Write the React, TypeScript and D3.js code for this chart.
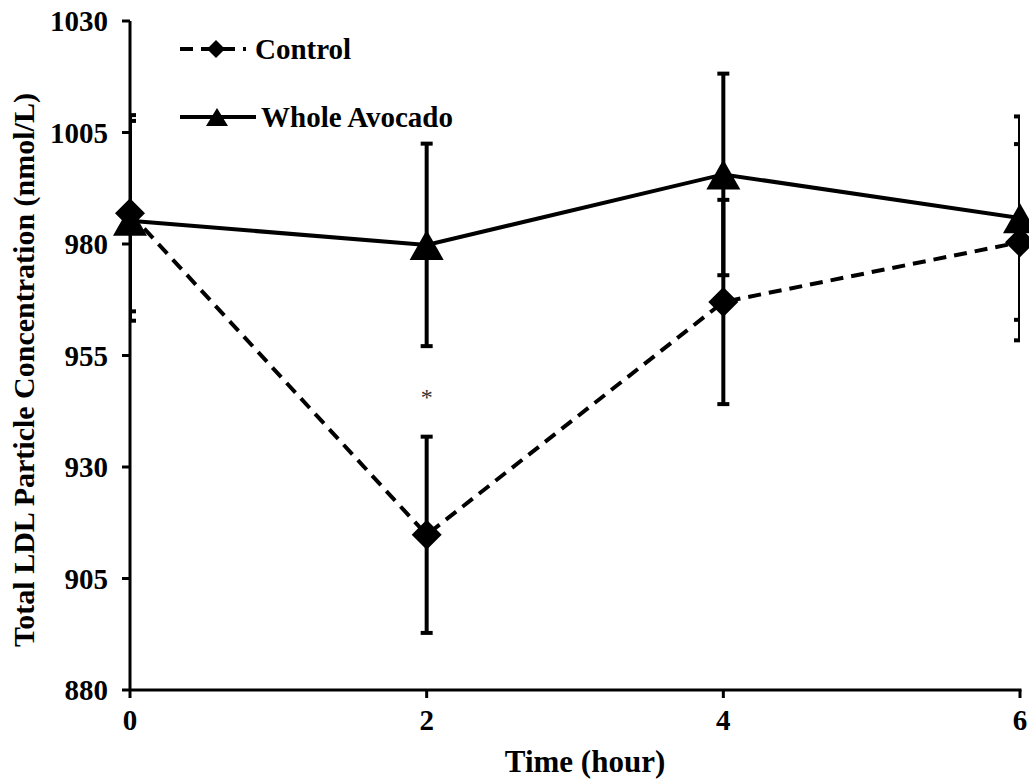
import { useEffect } from 'react';
import * as d3 from 'd3';

const hours = [0, 2, 4, 6];
const controlMean = [986.9, 914.8, 967.0, 980.4];
const controlErr = [22.0, 22.0, 22.9, 22.0];
const avocadoMean = [985.2, 979.8, 995.6, 985.8];
const avocadoErr = [22.4, 22.7, 22.6, 22.8];
const yTicks = [880, 905, 930, 955, 980, 1005, 1030];
const xTicks = [0, 2, 4, 6];

const W = 1029;
const H = 780;
const FONT = "'Liberation Serif', serif";

const x = d3.scaleLinear().domain([0, 6]).range([130, 1020]);
const y = d3.scaleLinear().domain([880, 1030]).range([690, 21]);

const diamond = (cx: number, cy: number, r = 15) =>
    `M${cx},${cy - r}L${cx + r},${cy}L${cx},${cy + r}L${cx - r},${cy}Z`;
const triangle = (cx: number, cy: number, w = 34, h = 30) =>
    `M${cx},${cy - h / 2}L${cx + w / 2},${cy + h / 2}L${cx - w / 2},${cy + h / 2}Z`;

export default function App() {
    useEffect(() => {
        document.body.style.margin = '0';
    }, []);

    const line = d3.line<number>()
        .x((_, i) => x(hours[i]))
        .y(d => y(d));

    const errBars = (mean: number[], err: number[]) =>
        mean.map((m, i) => {
            const cx = x(hours[i]);
            const top = y(m + err[i]);
            const bot = y(m - err[i]);
            return (
                <g key={i} stroke="#000" strokeWidth={4}>
                    <line x1={cx} x2={cx} y1={top} y2={bot} />
                    <line x1={cx - 6} x2={cx + 6} y1={top} y2={top} />
                    <line x1={cx - 6} x2={cx + 6} y1={bot} y2={bot} />
                </g>
            );
        });

    return (
        <svg width={W} height={H} style={{ display: 'block', background: '#fff', fontFamily: FONT }}>
            <defs>
                <clipPath id="plot">
                    <rect x={x(0)} y={0} width={x(6) - x(0)} height={H} />
                </clipPath>
            </defs>

            {/* axes */}
            <g stroke="#000" strokeWidth={3}>
                <line x1={x(0)} x2={x(0)} y1={y(1030)} y2={y(880)} />
                <line x1={x(0)} x2={x(6) + 1.5} y1={y(880)} y2={y(880)} />
                {yTicks.map(t => (
                    <line key={t} x1={x(0) - 8} x2={x(0)} y1={y(t)} y2={y(t)} />
                ))}
                {xTicks.map(t => (
                    <line key={t} x1={x(t)} x2={x(t)} y1={y(880)} y2={y(880) + 8} />
                ))}
            </g>
            <g fontWeight="bold" fill="#000" style={{ fontFamily: FONT }}>
                {yTicks.map(t => (
                    <text key={t} x={x(0) - 22} y={y(t)} dy="0.35em" textAnchor="end" fontSize={29}>{t}</text>
                ))}
                {xTicks.map(t => (
                    <text key={t} x={x(t)} y={720} dy="0.35em" textAnchor="middle" fontSize={29}>{t}</text>
                ))}
                <text x={585} y={772} textAnchor="middle" fontSize={31}>Time (hour)</text>
                <text transform="translate(34,370) rotate(-90)" textAnchor="middle" fontSize={30}>
                    Total LDL Particle Concentration (nmol/L)
                </text>
            </g>

            {/* error bars */}
            <g clipPath="url(#plot)">
                {errBars(controlMean, controlErr)}
                {errBars(avocadoMean, avocadoErr)}
            </g>

            {/* control */}
            <path d={line(controlMean) ?? ''} fill="none" stroke="#000" strokeWidth={4} strokeDasharray="13,8" />
            {controlMean.map((m, i) => (
                <path key={i} d={diamond(x(hours[i]), y(m))} fill="#000" />
            ))}

            {/* whole avocado */}
            <path d={line(avocadoMean) ?? ''} fill="none" stroke="#000" strokeWidth={4} />
            {avocadoMean.map((m, i) => (
                <path key={i} d={triangle(x(hours[i]), y(m))} fill="#000" />
            ))}

            <text x={x(2)} y={392} dy="0.55em" textAnchor="middle" fontSize={24} fill="#333">*</text>

            {/* legend */}
            <g fontSize={29} fontWeight="bold" style={{ fontFamily: FONT }}>
                <line x1={180} x2={246} y1={49} y2={49} stroke="#000" strokeWidth={4} strokeDasharray="13,8" />
                <path d={diamond(216, 49, 9)} fill="#000" />
                <text x={255} y={49} dy="0.35em">Control</text>
                <line x1={180} x2={256} y1={117} y2={117} stroke="#000" strokeWidth={4} />
                <path d={triangle(217, 117, 22, 18)} fill="#000" />
                <text x={261} y={117} dy="0.35em">Whole Avocado</text>
            </g>
        </svg>
    );
}
